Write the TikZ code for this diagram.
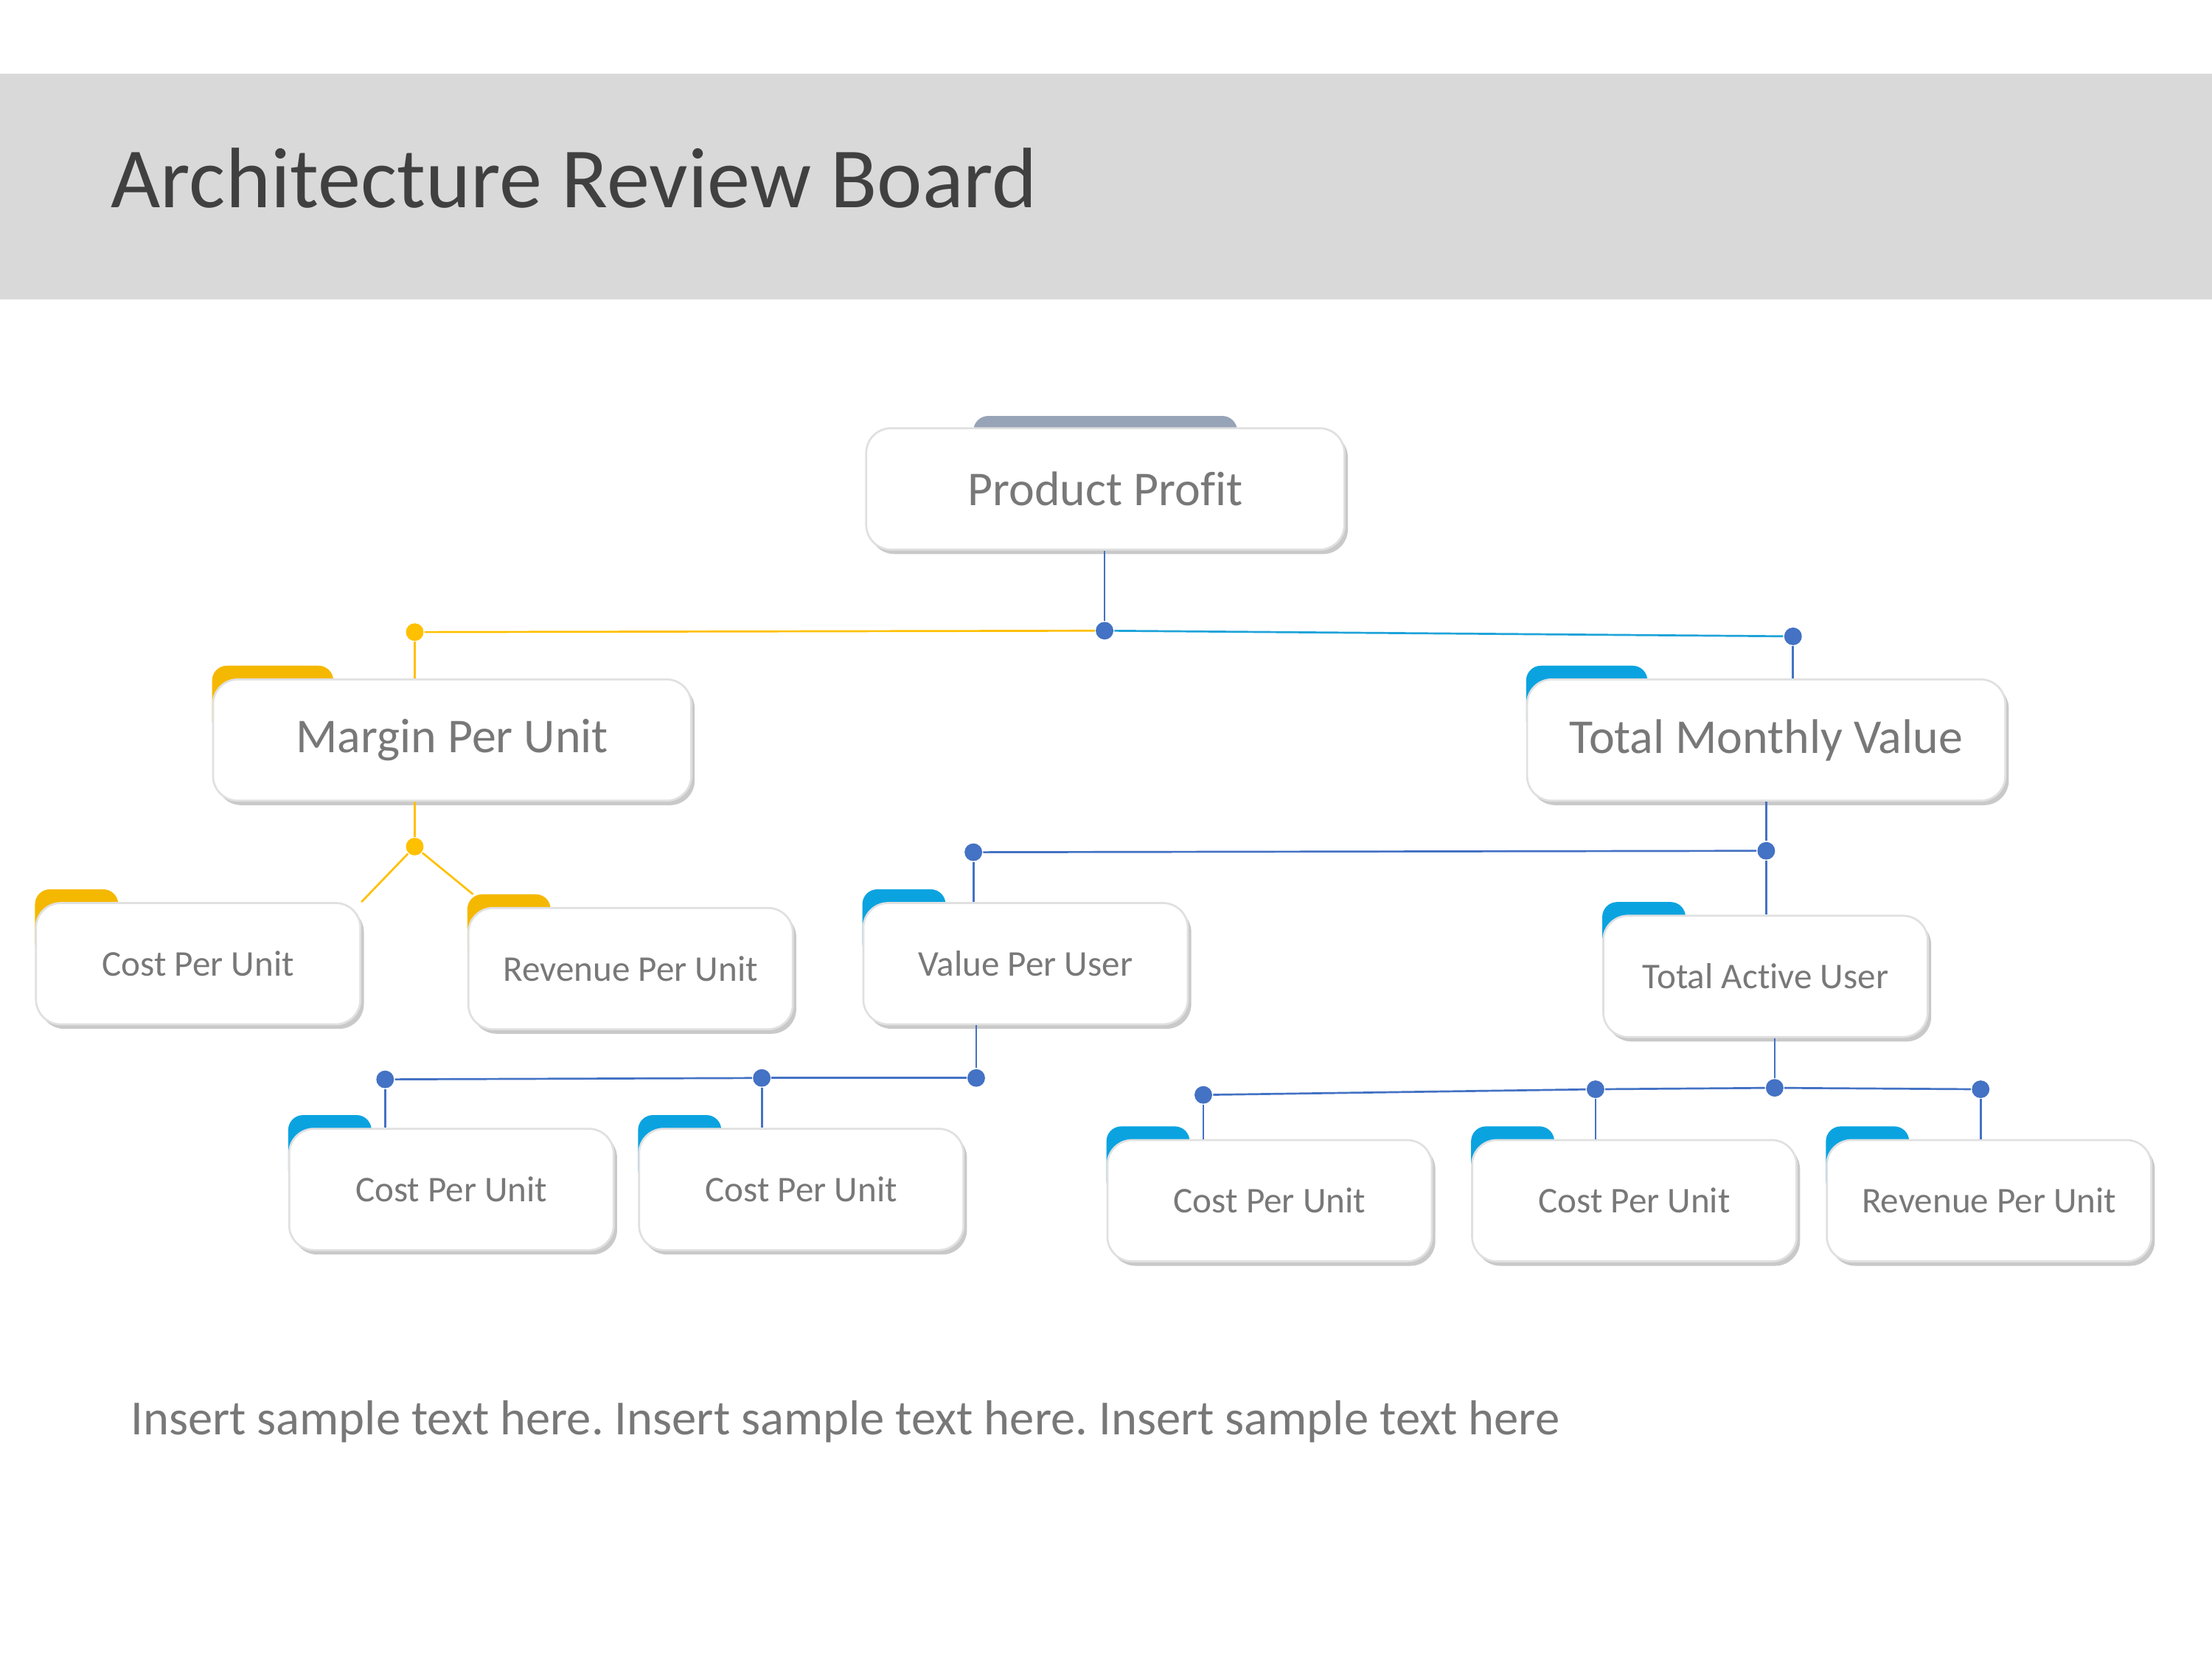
\documentclass[tikz,border=0pt]{standalone}
\usepackage{fontspec}
\setmainfont{Carlito}[Ligatures=NoCommon]
\usetikzlibrary{positioning,shadows,backgrounds}

\definecolor{bandgray}{HTML}{D9D9D9}
\definecolor{titlegray}{HTML}{404040}
\definecolor{labelgray}{HTML}{787878}
\definecolor{wireblue}{HTML}{4472C4}
\definecolor{wireyellow}{HTML}{FFC000}
\definecolor{wirecyan}{HTML}{1FA3D9}
\definecolor{tabyellow}{HTML}{F5B800}
\definecolor{tabblue}{HTML}{0AA3E0}
\definecolor{tabgray}{HTML}{97A3B6}

\tikzset{
  card/.style={draw=black!12, fill=white, rounded corners=5pt, minimum height=8.6mm,
    inner sep=0pt, text=labelgray,
    drop shadow={shadow xshift=0.7pt, shadow yshift=-0.9pt, opacity=0.35, fill=black!60}},
  bigcard/.style={card, minimum width=33.9mm, font=\fontsize{9.8}{12}\selectfont},
  smallcard/.style={card, minimum width=23mm, font=\fontsize{7.3}{9}\selectfont},
  knot/.style={circle, fill=#1, inner sep=0pt, minimum size=1.25mm},
  knot/.default=wireblue,
  wire/.style={line width=0.4pt, draw=#1},
  wire/.default=wireblue,
}

% folder tab behind a card: node, width, colour
\newcommand{\cardtab}[3]{%
  \fill[#3, rounded corners=3pt] ([yshift=-4mm]#1.north west) rectangle ([xshift=#2, yshift=0.9mm]#1.north west);}

\begin{document}
\frenchspacing
\begin{tikzpicture}[x=0.1mm, y=-0.1mm]
    \useasboundingbox (0,0) rectangle (1568,1176);
    % header
    \node[anchor=base west, inner sep=0pt, text=titlegray, font=\fontsize{17.3}{20}\selectfont] (title) at (78,147) {Architecture Review Board};

    % cards
    \node[bigcard] (pp) at (783.5,346.5) {Product Profit};
    \node[bigcard] (mpu) at (320.5,524.5) {Margin Per Unit};
    \node[bigcard] (tmv) at (1252,524.5) {Total Monthly Value};
    \node[smallcard] (cpua) at (140.5,683) {Cost Per Unit};
    \node[smallcard] (rpua) at (447,686.5) {Revenue Per Unit};
    \node[smallcard] (vpu) at (727,683) {Value Per User};
    \node[smallcard] (tau) at (1251.5,692) {Total Active User};
    \node[smallcard] (cpub) at (320,843) {Cost Per Unit};
    \node[smallcard] (cpuc) at (568,843) {Cost Per Unit};
    \node[smallcard] (cpud) at (900,851) {Cost Per Unit};
    \node[smallcard] (cpue) at (1158.5,851) {Cost Per Unit};
    \node[smallcard] (rpub) at (1410,851) {Revenue Per Unit};

    % page, band and tabs
    \begin{scope}[on background layer]
        \fill[white] (0,0) rectangle (1568,1176);
        \fill[bandgray] (0,52) rectangle (1568,212);
        \fill[tabgray, rounded corners=3pt] ([xshift=-9.35mm, yshift=-4mm]pp.north) rectangle ([xshift=9.35mm, yshift=0.8mm]pp.north);
        \cardtab{mpu}{8.6mm}{tabyellow}
        \cardtab{tmv}{8.6mm}{tabblue}
        \cardtab{cpua}{5.9mm}{tabyellow}
        \cardtab{rpua}{5.9mm}{tabyellow}
        \cardtab{vpu}{5.9mm}{tabblue}
        \cardtab{tau}{5.9mm}{tabblue}
        \cardtab{cpub}{5.9mm}{tabblue}
        \cardtab{cpuc}{5.9mm}{tabblue}
        \cardtab{cpud}{5.9mm}{tabblue}
        \cardtab{cpue}{5.9mm}{tabblue}
        \cardtab{rpub}{5.9mm}{tabblue}
    \end{scope}

    % joints
    \node[knot] (jpp) at (783,447) {};
    \node[knot=wireyellow] (jmpu) at (294,448) {};
    \node[knot] (jtmv) at (1271,451) {};
    \node[knot=wireyellow] (jm) at (294,600) {};
    \node[knot] (jv) at (690,604) {};
    \node[knot] (jt) at (1252,603) {};
    \node[knot] (ju) at (692,764) {};
    \node[knot] (jub) at (273,765) {};
    \node[knot] (juc) at (540,764) {};
    \node[knot] (ja) at (1258,771) {};
    \node[knot] (jad) at (853,776) {};
    \node[knot] (jae) at (1131,772) {};
    \node[knot] (jab) at (1404,772) {};

    % links
    \draw[wire] (jpp |- pp.south) -- (jpp);
    \draw[wire=wireyellow] (jpp) -- (jmpu);
    \draw[wire=wirecyan] (jpp) -- (jtmv);
    \draw[wire=wireyellow] (jmpu) -- (jmpu |- mpu.north);
    \draw[wire] (jtmv) -- (jtmv |- tmv.north);
    \draw[wire=wireyellow] (jm |- mpu.south) -- (jm);
    \draw[wire=wireyellow] (jm) -- (cpua.north east);
    \draw[wire=wireyellow] (jm) -- ([xshift=0.4mm, yshift=0.9mm]rpua.north west);
    \draw[wire] (jt |- tmv.south) -- (jt);
    \draw[wire] (jv) -- (jt);
    \draw[wire] (jv) -- (jv |- vpu.north);
    \draw[wire] (jt) -- (jt |- tau.north);
    \draw[wire] (ju |- vpu.south) -- (ju);
    \draw[wire] (jub) -- (juc);
    \draw[wire] (juc) -- (ju);
    \draw[wire] (jub) -- (jub |- cpub.north);
    \draw[wire] (juc) -- (juc |- cpuc.north);
    \draw[wire] (ja |- tau.south) -- (ja);
    \draw[wire] (jad) -- (jae);
    \draw[wire] (jae) -- (ja);
    \draw[wire] (ja) -- (jab);
    \draw[wire] (jad) -- (jad |- cpud.north);
    \draw[wire] (jae) -- (jae |- cpue.north);
    \draw[wire] (jab) -- (jab |- rpub.north);

    % note
    \node[anchor=base west, inner sep=0pt, text=labelgray, font=\fontsize{9.9}{12}\selectfont] (note) at (92,1017) {Insert sample text here. Insert sample text here. Insert sample text here};
\end{tikzpicture}
\end{document}
